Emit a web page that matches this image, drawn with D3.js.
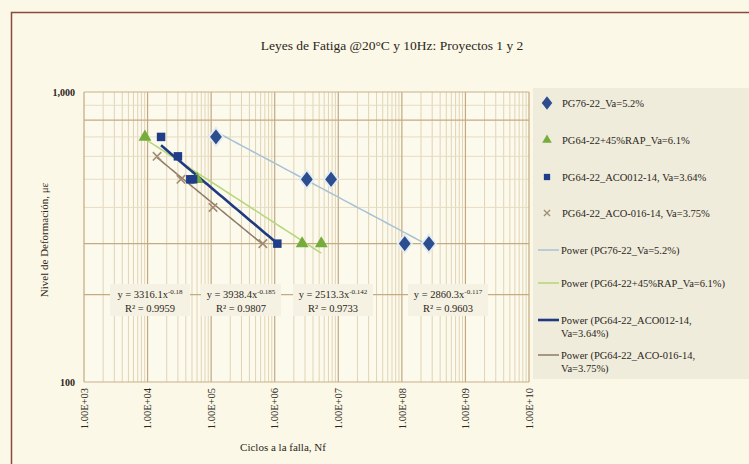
<!DOCTYPE html>
<html>
<head>
<meta charset="utf-8">
<script src="https://cdn.jsdelivr.net/npm/d3@7"></script>
<style>
  body { margin: 0; background: #fbf8e7; }
  svg { display: block; }
  text { font-family: "Liberation Serif", "Times New Roman", serif; fill: #2b2620; }
</style>
</head>
<body>
<svg id="chart" width="749" height="464"></svg>
<script>
// ---- data ----
const seriesNames = [
  "PG76-22_Va=5.2%",
  "PG64-22+45%RAP_Va=6.1%",
  "PG64-22_ACO012-14, Va=3.64%",
  "PG64-22_ACO-016-14, Va=3.75%"
];
const pg76Cycles   = [1.19e5, 3.2e6, 7.7e6, 1.11e8, 2.66e8];
const pg76Strain   = [700, 500, 500, 300, 300];
const rapCycles    = [9.1e3, 6.0e4, 2.7e6, 5.4e6];
const rapStrain    = [700, 500, 300, 300];
const aco012Cycles = [1.63e4, 3.0e4, 4.7e4, 5.2e4, 1.1e6];
const aco012Strain = [700, 600, 500, 500, 300];
const aco016Cycles = [1.41e4, 3.35e4, 1.07e5, 6.5e5];
const aco016Strain = [600, 500, 400, 300];

// power-law trendlines y = a * x^b
const fitCoef = [2860.3, 2513.3, 3938.4, 3316.1];
const fitExp  = [-0.117, -0.142, -0.185, -0.18];
const fitR2   = ["0.9603", "0.9733", "0.9807", "0.9959"];

const legendPowerLabels = [
  ["Power (PG76-22_Va=5.2%)"],
  ["Power (PG64-22+45%RAP_Va=6.1%)"],
  ["Power (PG64-22_ACO012-14,", "Va=3.64%)"],
  ["Power (PG64-22_ACO-016-14,", "Va=3.75%)"]
];

const xTicks = [1e3, 1e4, 1e5, 1e6, 1e7, 1e8, 1e9, 1e10];
const yTicks = [100, 1000];

const titleText  = "Leyes de Fatiga @20°C y 10Hz: Proyectos 1 y 2";
const xAxisTitle = "Ciclos a la falla, Nf";
const yAxisTitle = "Nivel de Deformación, με";

// ---- styles ----
const markerFill  = ["#2c4d8e", "#76ac3b", "#1f3d89", "#a28c74"];
const trendColor  = ["#a7c2d6", "#b8d77d", "#1f3a80", "#8e7b68"];
const trendWidth  = [1.5, 1.6, 2.6, 1.5];
const symbolTypes = [d3.symbolDiamond, d3.symbolTriangle, d3.symbolSquare, d3.symbolX || d3.symbolCross];
const symbolSizes = [95, 72, 72, 48];

const series = [
  {cycles: pg76Cycles,   strain: pg76Strain},
  {cycles: rapCycles,    strain: rapStrain},
  {cycles: aco012Cycles, strain: aco012Strain},
  {cycles: aco016Cycles, strain: aco016Strain}
].map((s, i) => ({...s, name: seriesNames[i], a: fitCoef[i], b: fitExp[i], r2: fitR2[i],
  pts: s.cycles.map((c, j) => ({x: c, y: s.strain[j]}))}));

const svg = d3.select("#chart");
const W = 749, H = 464;

// background and frame
svg.append("rect").attr("width", W).attr("height", H).attr("fill", "#fbf8e7");
svg.append("rect").attr("x", 11.5).attr("y", 12.5).attr("width", 760).attr("height", 470)
  .attr("fill", "none").attr("stroke", "#8a4a3b").attr("stroke-width", 1.5);

// title
svg.append("text").attr("x", 392).attr("y", 50).attr("text-anchor", "middle")
  .attr("font-size", 13.5).text(titleText);

const x = d3.scaleLog().domain([1e3, 1e10]).range([84, 529]);
const y = d3.scaleLog().domain([100, 1000]).range([382, 92]);

const plot = svg.append("g");
plot.append("rect").attr("x", x.range()[0]).attr("y", y.range()[1])
  .attr("width", x.range()[1] - x.range()[0]).attr("height", y.range()[0] - y.range()[1])
  .attr("fill", "#fcfaec");

// vertical grid: minor then major
const minorX = [];
for (let e = 3; e < 10; e++) for (let m = 2; m <= 9; m++) minorX.push(m * Math.pow(10, e));
plot.selectAll(".vminor").data(minorX).join("line")
  .attr("x1", d => x(d)).attr("x2", d => x(d))
  .attr("y1", y.range()[1]).attr("y2", y.range()[0])
  .attr("stroke", "#e1d3b6").attr("stroke-width", 1);

// horizontal grid
const gridY = d3.range(200, 1000, 100);
const strongY = [200, 300, 800];
plot.selectAll(".hgrid").data(gridY).join("line")
  .attr("x1", x.range()[0]).attr("x2", x.range()[1])
  .attr("y1", d => y(d)).attr("y2", d => y(d))
  .attr("stroke", d => strongY.includes(d) ? "#c6aa82" : "#e6dcc4")
  .attr("stroke-width", d => strongY.includes(d) ? 1.3 : 1);

plot.selectAll(".vmajor").data(xTicks).join("line")
  .attr("x1", d => x(d)).attr("x2", d => x(d))
  .attr("y1", y.range()[1]).attr("y2", y.range()[0])
  .attr("stroke", "#c4a882").attr("stroke-width", 1.2);
plot.selectAll(".hmajor").data(yTicks).join("line")
  .attr("x1", x.range()[0]).attr("x2", x.range()[1])
  .attr("y1", d => y(d)).attr("y2", d => y(d))
  .attr("stroke", "#c9b08c").attr("stroke-width", 1.1);

// y tick labels
svg.selectAll(".ytick").data(yTicks).join("text")
  .attr("x", 75).attr("y", d => y(d)).attr("dy", "0.35em")
  .attr("text-anchor", "end").attr("font-size", 10).attr("font-weight", "bold")
  .attr("fill", "#3a342c").text(d => d3.format(",")(d));

// x tick labels, rotated
const fmtSci = v => "1.00E+" + String(Math.round(Math.log10(v))).padStart(2, "0");
svg.selectAll(".xtick").data(xTicks).join("text")
  .attr("transform", d => `translate(${x(d)},388) rotate(-90)`)
  .attr("dy", "0.35em").attr("text-anchor", "end").attr("font-size", 10.5)
  .text(fmtSci);

// axis titles
svg.append("text").attr("transform", "translate(48,240) rotate(-90)")
  .attr("text-anchor", "middle").attr("font-size", 11).text(yAxisTitle);
svg.append("text").attr("x", 283).attr("y", 451).attr("text-anchor", "middle")
  .attr("font-size", 11).text(xAxisTitle);

// trendlines over each series' data range
series.forEach((s, i) => {
  const [x0, x1] = d3.extent(s.cycles);
  const samples = d3.range(0, 41).map(k => Math.pow(10, Math.log10(x0) + (Math.log10(x1) - Math.log10(x0)) * k / 40));
  plot.append("path")
    .datum(samples.map(c => ({x: c, y: s.a * Math.pow(c, s.b)})))
    .attr("fill", "none").attr("stroke", trendColor[i]).attr("stroke-width", trendWidth[i])
    .attr("d", d3.line().x(d => x(d.x)).y(d => y(d.y)));
});

// markers
series.forEach((s, i) => {
  const g = plot.append("g");
  const sym = d3.symbol().type(symbolTypes[i]).size(symbolSizes[i]);
  g.selectAll("path").data(s.pts).join("path")
    .attr("transform", d => `translate(${x(d.x)},${y(d.y)})` + (i === 0 ? " scale(1.35,1)" : ""))
    .attr("d", sym)
    .attr("fill", i === 3 ? "none" : markerFill[i])
    .attr("stroke", i === 3 ? markerFill[i] : (i === 0 ? "#e4ebf2" : "none"))
    .attr("stroke-width", i === 3 ? 1.6 : 1.5);
});

// equation labels (left to right: ACO-016, ACO012, RAP, PG76)
const eqOrder = [3, 2, 1, 0];
const eqCenters = [150, 241, 333, 448];
eqOrder.forEach((si, k) => {
  const s = series[si];
  const cx = eqCenters[k];
  const g = svg.append("g");
  g.append("rect").attr("x", cx - 40).attr("y", 284).attr("width", 80).attr("height", 32)
    .attr("fill", "#f5f2e3");
  const t = g.append("text").attr("x", cx).attr("y", 298).attr("text-anchor", "middle").attr("font-size", 10.5);
  t.append("tspan").text(`y = ${s.a.toFixed(1)}x`);
  t.append("tspan").attr("dy", -4).attr("font-size", 7).text(String(s.b));
  g.append("text").attr("x", cx).attr("y", 312).attr("text-anchor", "middle").attr("font-size", 10.5)
    .text("R² = " + s.r2);
});

// legend
const lg = svg.append("g");
lg.append("rect").attr("x", 533).attr("y", 88).attr("width", 216).attr("height", 291)
  .attr("fill", "#efecdc");
const markerRows = [103, 140, 177, 213];
series.forEach((s, i) => {
  const sym = d3.symbol().type(symbolTypes[i]).size(symbolSizes[i] * 0.55);
  lg.append("path").attr("transform", `translate(547,${markerRows[i]})` + (i === 0 ? " scale(1.35,1)" : ""))
    .attr("d", sym)
    .attr("fill", i === 3 ? "none" : markerFill[i])
    .attr("stroke", i === 3 ? markerFill[i] : "none").attr("stroke-width", 1.3);
  lg.append("text").attr("x", 562).attr("y", markerRows[i]).attr("dy", "0.35em")
    .attr("font-size", 10.5).text(s.name);
});
const lineRows = [250, 283, 320, 355];
legendPowerLabels.forEach((lines, i) => {
  lg.append("line").attr("x1", 538).attr("x2", 559)
    .attr("y1", lineRows[i]).attr("y2", lineRows[i])
    .attr("stroke", trendColor[i]).attr("stroke-width", trendWidth[i]);
  lines.forEach((t, j) => {
    lg.append("text").attr("x", 561).attr("y", lineRows[i] + j * 13).attr("dy", "0.35em")
      .attr("font-size", 10.5).text(t);
  });
});
</script>
</body>
</html>
